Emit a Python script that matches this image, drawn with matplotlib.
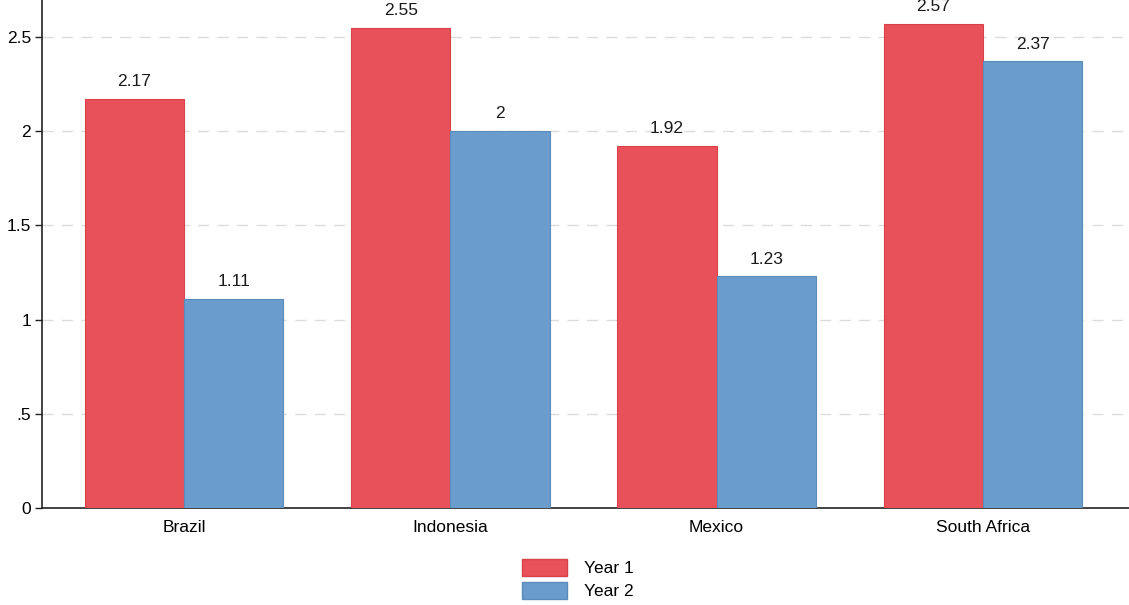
import numpy as np
import matplotlib.pyplot as plt
from matplotlib.patches import Patch

plt.rcParams['font.family'] = ['Liberation Sans', 'DejaVu Sans']

# Datos
paises = ['Brazil', 'Indonesia', 'Mexico', 'South Africa']
anio1 = [2.17, 2.55, 1.92, 2.57]
anio2 = [1.11, 2.00, 1.23, 2.37]
etiquetas_anio1 = ['2.17', '2.55', '1.92', '2.57']
etiquetas_anio2 = ['1.11', '2', '1.23', '2.37']
series = ['Year 1', 'Year 2']
yticks = [0, 0.5, 1, 1.5, 2, 2.5]
ytick_labels = ['0', '.5', '1', '1.5', '2', '2.5']

rojo = '#E8515A'
azul = '#6A9DCB'
fs = 12.5

fig = plt.figure(figsize=(11.29, 6.05), dpi=100)
ax = fig.add_axes([42 / 1129, 1 - 508 / 605, 1 - 42 / 1129, 508 / 605])

x = np.arange(len(paises))
ancho = 0.373
b1 = ax.bar(x - ancho / 2, anio1, ancho, color=rojo, edgecolor='#D9404A', linewidth=0.8, zorder=3)
b2 = ax.bar(x + ancho / 2, anio2, ancho, color=azul, edgecolor='#5A8CBB', linewidth=0.8, zorder=3)

# Etiquetas sobre las barras
for barra, txt in zip(b1, etiquetas_anio1):
    ax.annotate(txt, (barra.get_x() + barra.get_width() / 2, barra.get_height()),
                xytext=(0, 7), textcoords='offset points', ha='center', va='bottom',
                fontsize=fs, color='#1a1a1a', annotation_clip=False)
for barra, txt in zip(b2, etiquetas_anio2):
    ax.annotate(txt, (barra.get_x() + barra.get_width() / 2, barra.get_height()),
                xytext=(0, 7), textcoords='offset points', ha='center', va='bottom',
                fontsize=fs, color='#1a1a1a', annotation_clip=False)

ax.set_xlim(-0.533, 3.548)
ax.set_ylim(0, 2.696)
ax.set_yticks(yticks)
ax.set_yticklabels(ytick_labels, fontsize=fs)
ax.set_xticks(x)
ax.set_xticklabels(paises, fontsize=fs)
ax.tick_params(axis='x', length=0, pad=9)
ax.tick_params(axis='y', length=5, width=1, pad=3, color='#222222')

for v in yticks[1:]:
    ax.axhline(v, color='#dcdcdc', linewidth=1, ls=(0, (8, 6)), zorder=1)

for lado in ['top', 'right']:
    ax.spines[lado].set_visible(False)
ax.spines['left'].set_linewidth(1.2)
ax.spines['bottom'].set_linewidth(1.2)
ax.spines['left'].set_color('#222222')
ax.spines['bottom'].set_color('#222222')

manijas = [Patch(facecolor=rojo, edgecolor='#D9404A'), Patch(facecolor=azul, edgecolor='#5A8CBB')]
fig.legend(manijas, series, loc='center', bbox_to_anchor=(578 / 1129, 1 - 579 / 605),
           frameon=False, fontsize=fs, handlelength=2.6, handleheight=1.2,
           labelspacing=0.3, handletextpad=1.0)

fig.savefig('out.png', dpi=100)
